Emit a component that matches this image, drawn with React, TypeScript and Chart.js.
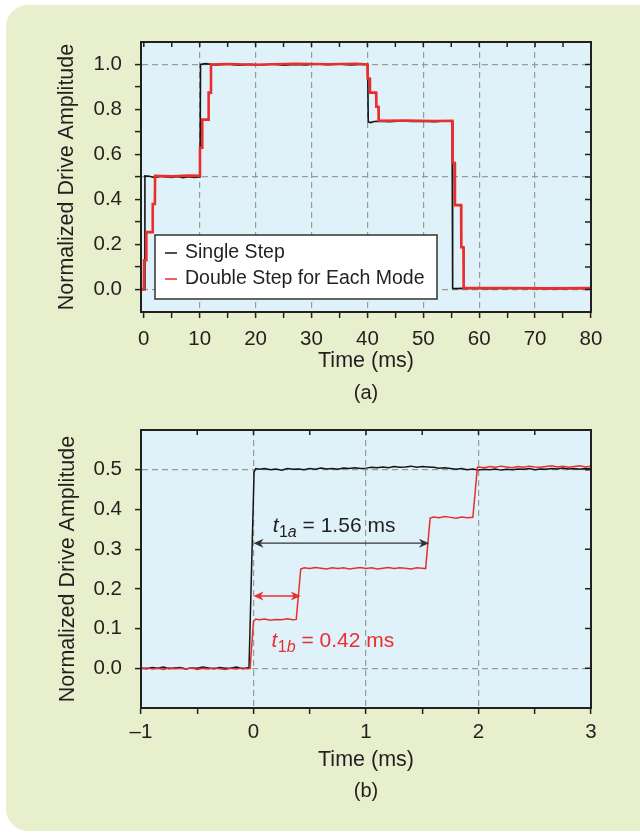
import React, { useEffect, useRef } from "react";
import { Chart, registerables } from "chart.js";

Chart.register(...registerables);

const FONT = '"Liberation Sans", Arial, Helvetica, sans-serif';
const INK = "#231f20";
const ARROW_INK = "#333333";
const RED = "#ec2d2d";
const BLACK = "#151515";
const GRID = "#9a9a9a";
const PLOT_BG = "#dff2fa";
const PANEL_BG = "#e8efcc";

// ---------- (a) whole drive sequence, time in ms ----------
const A_SINGLE_T = [-0.5, 0.1, 0.2, 1, 2, 3, 4, 5, 6, 7, 8, 9, 10.05,
  10.15, 11, 13, 15, 17, 19, 21, 23, 25, 27, 29, 31, 33, 35, 37, 39, 40.05,
  40.15, 40.6, 41.2, 42, 44, 46, 48, 50, 52, 54, 55.15,
  55.25, 56, 58, 62, 66, 70, 74, 78, 80];
const A_SINGLE_V = [0.0, 0.0, 0.505, 0.503, 0.497, 0.503, 0.5, 0.498, 0.502, 0.497, 0.501, 0.498, 0.5,
  1.0, 1.004, 0.998, 1.002, 0.997, 1.001, 0.998, 1.002, 0.997, 1.0, 0.998, 1.003, 0.999, 1.002, 0.998, 1.001, 1.0,
  0.745, 0.742, 0.747, 0.748, 0.746, 0.749, 0.747, 0.748, 0.746, 0.749, 0.748,
  0.005, 0.004, 0.006, 0.004, 0.006, 0.005, 0.004, 0.006, 0.005];

const A_DOUBLE_T = [-0.5, 0.0, 0.05, 0.42, 0.46, 1.56, 1.6, 1.98, 2.02, 5, 8, 10.0,
  10.05, 10.42, 10.46, 11.56, 11.6, 11.98, 12.02, 15, 20, 27, 33, 38, 40.0,
  40.05, 40.42, 40.46, 41.56, 41.6, 41.98, 42.02, 47, 52, 55.2,
  55.25, 55.62, 55.66, 56.76, 56.8, 57.18, 57.22, 65, 72, 80];
const A_DOUBLE_V = [0.0, 0.0, 0.13, 0.13, 0.255, 0.255, 0.38, 0.38, 0.505, 0.503, 0.506, 0.505,
  0.63, 0.63, 0.755, 0.755, 0.875, 0.875, 1.0, 1.002, 0.999, 1.003, 1.001, 1.003, 1.0,
  0.9375, 0.9375, 0.875, 0.875, 0.8125, 0.8125, 0.75, 0.751, 0.749, 0.75,
  0.5625, 0.5625, 0.375, 0.375, 0.1875, 0.1875, 0.006, 0.007, 0.005, 0.006];

const A_X_TICKS = [0, 5, 10, 15, 20, 25, 30, 35, 40, 45, 50, 55, 60, 65, 70, 75, 80];
const A_X_LABELED = [0, 10, 20, 30, 40, 50, 60, 70, 80];
const A_X_GRID = [10, 20, 30, 40, 50, 60, 70];
const A_Y_TICKS = [0, 0.1, 0.2, 0.3, 0.4, 0.5, 0.6, 0.7, 0.8, 0.9, 1.0];
const A_Y_LABELED = [0, 0.2, 0.4, 0.6, 0.8, 1.0];
const A_Y_GRID = [0, 0.5, 1.0];

// ---------- (b) close-up of the first step, time in ms ----------
const B_SINGLE_T = [-1.0, -0.95, -0.9, -0.85, -0.8, -0.75, -0.7, -0.65, -0.6, -0.55, -0.5, -0.45, -0.4,
  -0.35, -0.3, -0.25, -0.2, -0.15, -0.1, -0.05, -0.04, 0.005, 0.02,
  0.05, 0.1, 0.15, 0.2, 0.25, 0.3, 0.35, 0.4, 0.45, 0.5, 0.55, 0.6, 0.65, 0.7, 0.75, 0.8, 0.85, 0.9, 0.95,
  1.0, 1.05, 1.1, 1.15, 1.2, 1.25, 1.3, 1.35, 1.4, 1.45, 1.5, 1.55, 1.6, 1.65, 1.7, 1.75, 1.8, 1.85, 1.9, 1.95,
  2.0, 2.05, 2.1, 2.15, 2.2, 2.25, 2.3, 2.35, 2.4, 2.45, 2.5, 2.55, 2.6, 2.65, 2.7, 2.75, 2.8, 2.85, 2.9, 2.95, 3.0];
const B_SINGLE_V = [0.001, -0.001, 0.002, 0.0, 0.003, -0.001, 0.001, 0.002, -0.002, 0.001, 0.0, 0.003, 0.001,
  -0.001, 0.002, 0.0, 0.001, 0.003, -0.001, 0.001, 0.0, 0.494, 0.503,
  0.501, 0.503, 0.5, 0.502, 0.499, 0.503, 0.501, 0.502, 0.5, 0.503, 0.501, 0.504, 0.502, 0.503, 0.501, 0.504, 0.503, 0.505, 0.503,
  0.504, 0.506, 0.505, 0.507, 0.505, 0.508, 0.506, 0.507, 0.509, 0.506, 0.508, 0.507, 0.506, 0.504, 0.505, 0.503, 0.501, 0.503, 0.5, 0.502,
  0.499, 0.501, 0.5, 0.502, 0.499, 0.501, 0.5, 0.502, 0.501, 0.503, 0.5, 0.502, 0.501, 0.503, 0.502, 0.504, 0.502, 0.503, 0.501, 0.503, 0.502];

const B_DOUBLE_T = [-1.0, -0.95, -0.9, -0.85, -0.8, -0.75, -0.7, -0.65, -0.6, -0.55, -0.5, -0.45, -0.4,
  -0.35, -0.3, -0.25, -0.2, -0.15, -0.1, -0.05, -0.03, 0.0, 0.02,
  0.05, 0.1, 0.15, 0.2, 0.25, 0.3, 0.35, 0.38, 0.42,
  0.45, 0.5, 0.55, 0.6, 0.65, 0.7, 0.75, 0.8, 0.85, 0.9, 0.95, 1.0, 1.05, 1.1, 1.15, 1.2, 1.25, 1.3, 1.35, 1.4, 1.45, 1.5, 1.53, 1.57,
  1.6, 1.65, 1.7, 1.75, 1.8, 1.85, 1.9, 1.95, 1.99,
  2.0, 2.05, 2.1, 2.15, 2.2, 2.25, 2.3, 2.35, 2.4, 2.45, 2.5, 2.55, 2.6, 2.65, 2.7, 2.75, 2.8, 2.85, 2.9, 2.95, 3.0];
const B_DOUBLE_V = [-0.001, 0.001, -0.002, 0.0, -0.003, 0.001, -0.001, 0.0, -0.002, 0.001, -0.003, 0.0, -0.002,
  0.001, -0.001, -0.003, 0.0, -0.002, 0.001, -0.001, 0.0, 0.118, 0.124,
  0.122, 0.124, 0.121, 0.123, 0.122, 0.125, 0.122, 0.123, 0.25,
  0.253, 0.251, 0.254, 0.252, 0.25, 0.253, 0.251, 0.253, 0.25, 0.252, 0.254, 0.251, 0.253, 0.25, 0.252, 0.254, 0.251, 0.253, 0.252, 0.25, 0.253, 0.252, 0.251, 0.378,
  0.381, 0.379, 0.382, 0.38, 0.378, 0.381, 0.379, 0.38, 0.506,
  0.507, 0.505, 0.508, 0.506, 0.509, 0.507, 0.505, 0.508, 0.506, 0.509, 0.507, 0.506, 0.508, 0.51, 0.507, 0.509, 0.506, 0.508, 0.51, 0.507, 0.509];

const B_X_TICKS = [-1, -0.5, 0, 0.5, 1, 1.5, 2, 2.5, 3];
const B_X_LABELED = [-1, 0, 1, 2, 3];
const B_X_GRID = [0, 1, 2];
const B_Y_TICKS = [0, 0.1, 0.2, 0.3, 0.4, 0.5];
const B_Y_LABELED = [0, 0.1, 0.2, 0.3, 0.4, 0.5];
const B_Y_GRID = [0, 0.5];

// step delays marked in (b)
const T1A = 1.56;
const T1B = 0.42;
const SPAN_A_LEVEL = 0.315;
const SPAN_B_LEVEL = 0.182;
const LABEL_A_AT = [0.17, 0.344];
const LABEL_B_AT = [0.16, 0.054];

const pts = (t: number[], v: number[]) => t.map((x, i) => ({ x, y: v[i] }));
const fmtTime = (v: number) => (v < 0 ? "\u2013" + Math.abs(v) : String(v));
const fmtAmp = (v: number) => v.toFixed(1);

const plotBackground = {
  id: "plotBackground",
  beforeDraw(chart: any) {
    const { ctx, chartArea: a } = chart;
    ctx.save();
    ctx.fillStyle = PLOT_BG;
    ctx.fillRect(a.left, a.top, a.right - a.left, a.bottom - a.top);
    ctx.restore();
  },
};

function frameTicks(xTicks: number[], yTicks: number[]) {
  return {
    id: "frameTicks",
    afterDraw(chart: any) {
      const { ctx, chartArea: a, scales } = chart;
      ctx.save();
      ctx.strokeStyle = INK;
      ctx.lineWidth = 1.5;
      ctx.beginPath();
      xTicks.forEach((v) => {
        const px = scales.x.getPixelForValue(v);
        ctx.moveTo(px, a.top);
        ctx.lineTo(px, a.top + 5);
      });
      yTicks.forEach((v) => {
        const py = scales.y.getPixelForValue(v);
        ctx.moveTo(a.right, py);
        ctx.lineTo(a.right - 6, py);
      });
      ctx.stroke();
      ctx.lineWidth = 2;
      ctx.strokeRect(a.left, a.top, a.right - a.left, a.bottom - a.top);
      ctx.restore();
    },
  };
}

const insetLegend = {
  id: "insetLegend",
  afterDatasetsDraw(chart: any) {
    const { ctx, chartArea: a } = chart;
    const x = a.left + 14;
    const y = a.top + 193;
    const w = 282;
    const h = 64;
    ctx.save();
    ctx.fillStyle = "#ffffff";
    ctx.fillRect(x, y, w, h);
    ctx.strokeStyle = ARROW_INK;
    ctx.lineWidth = 1.5;
    ctx.strokeRect(x, y, w, h);
    ctx.font = `19.5px ${FONT}`;
    ctx.textBaseline = "middle";
    ctx.textAlign = "left";
    chart.data.datasets.forEach((ds: any, i: number) => {
      const cy = y + 18 + i * 26;
      ctx.strokeStyle = ds.borderColor;
      ctx.lineWidth = 1.5;
      ctx.beginPath();
      ctx.moveTo(x + 10, cy);
      ctx.lineTo(x + 22, cy);
      ctx.stroke();
      ctx.fillStyle = INK;
      ctx.fillText(ds.label, x + 30, cy);
    });
    ctx.restore();
  },
};

function drawSpan(ctx: CanvasRenderingContext2D, x0: number, x1: number, y: number, color: string) {
  ctx.save();
  ctx.strokeStyle = color;
  ctx.fillStyle = color;
  ctx.lineWidth = 1.3;
  ctx.beginPath();
  ctx.moveTo(x0 + 4, y);
  ctx.lineTo(x1 - 4, y);
  ctx.stroke();
  const head = (tip: number, dir: number) => {
    ctx.beginPath();
    ctx.moveTo(tip, y);
    ctx.lineTo(tip - dir * 10, y - 4.5);
    ctx.lineTo(tip - dir * 7, y);
    ctx.lineTo(tip - dir * 10, y + 4.5);
    ctx.closePath();
    ctx.fill();
  };
  head(x0, -1);
  head(x1, 1);
  ctx.restore();
}

function drawDelayLabel(ctx: CanvasRenderingContext2D, x: number, y: number, sub: string, value: number, color: string) {
  ctx.save();
  ctx.fillStyle = color;
  ctx.textBaseline = "alphabetic";
  ctx.textAlign = "left";
  ctx.font = `italic 21px ${FONT}`;
  ctx.fillText("t", x, y);
  x += ctx.measureText("t").width + 0.5;
  ctx.font = `16px ${FONT}`;
  ctx.fillText("1", x, y + 5);
  x += ctx.measureText("1").width;
  ctx.font = `italic 16px ${FONT}`;
  ctx.fillText(sub, x, y + 5);
  x += ctx.measureText(sub).width;
  ctx.font = `21px ${FONT}`;
  ctx.fillText(` = ${value.toFixed(2)} ms`, x, y);
  ctx.restore();
}

const delayMarks = {
  id: "delayMarks",
  afterDatasetsDraw(chart: any) {
    const { ctx, scales } = chart;
    const X = scales.x;
    const Y = scales.y;
    drawSpan(ctx, X.getPixelForValue(0), X.getPixelForValue(T1A), Y.getPixelForValue(SPAN_A_LEVEL), ARROW_INK);
    drawSpan(ctx, X.getPixelForValue(0), X.getPixelForValue(T1B), Y.getPixelForValue(SPAN_B_LEVEL), RED);
    drawDelayLabel(ctx, X.getPixelForValue(LABEL_A_AT[0]), Y.getPixelForValue(LABEL_A_AT[1]), "a", T1A, INK);
    drawDelayLabel(ctx, X.getPixelForValue(LABEL_B_AT[0]), Y.getPixelForValue(LABEL_B_AT[1]), "b", T1B, RED);
  },
};

type AxisSpec = {
  min: number;
  max: number;
  ticks: number[];
  labeled: number[];
  grid: number[];
  fmt: (v: number) => string;
  size: number;
  labelPad: number;
  title: string;
  titlePad: { top: number; bottom: number };
};

function axis(s: AxisSpec, horizontal: boolean) {
  return {
    type: "linear",
    position: horizontal ? "bottom" : "left",
    min: s.min,
    max: s.max,
    afterBuildTicks: (scale: any) => {
      scale.ticks = s.ticks.map((value) => ({ value }));
    },
    afterFit: (scale: any) => {
      if (horizontal) scale.height = s.size;
      else scale.width = s.size;
      // labels never sit at the plot edges, so no overflow room is needed
      scale.paddingTop = 0;
      scale.paddingBottom = 0;
      scale.paddingLeft = 0;
      scale.paddingRight = 0;
    },
    ticks: {
      autoSkip: false,
      maxRotation: 0,
      minRotation: 0,
      padding: s.labelPad,
      color: INK,
      font: { family: FONT, size: 20.5 },
      callback: (v: number) => (s.labeled.includes(v) ? s.fmt(v) : ""),
    },
    grid: {
      color: (c: any) => (c.tick && s.grid.includes(c.tick.value) ? GRID : "transparent"),
      lineWidth: 1.2,
      drawTicks: true,
      tickLength: 6,
      tickWidth: 1.5,
      tickColor: INK,
    },
    border: { display: true, color: INK, width: 2, dash: [6, 4] },
    title: {
      display: true,
      text: s.title,
      color: INK,
      font: { family: FONT, size: 21.5 },
      padding: s.titlePad,
    },
  };
}

function buildChart(
  canvas: HTMLCanvasElement,
  datasets: any[],
  x: AxisSpec,
  y: AxisSpec,
  padTop: number,
  extra: any[],
) {
  return new Chart(canvas, {
    type: "line",
    data: { datasets },
    options: {
      responsive: false,
      animation: false,
      devicePixelRatio: 1,
      events: [],
      layout: { padding: { left: 0, right: 49, top: padTop, bottom: 0 } },
      elements: { point: { radius: 0 }, line: { tension: 0, borderCapStyle: "butt" } },
      scales: { x: axis(x, true), y: axis(y, false) } as any,
      plugins: { legend: { display: false }, tooltip: { enabled: false } },
    },
    plugins: [plotBackground, ...extra],
  } as any);
}

export default function App() {
  const refA = useRef<HTMLCanvasElement>(null);
  const refB = useRef<HTMLCanvasElement>(null);

  useEffect(() => {
    const chartA = buildChart(
      refA.current!,
      [
        { label: "Single Step", data: pts(A_SINGLE_T, A_SINGLE_V), borderColor: BLACK, borderWidth: 1.6, order: 2 },
        { label: "Double Step for Each Mode", data: pts(A_DOUBLE_T, A_DOUBLE_V), borderColor: RED, borderWidth: 2.6, order: 1 },
      ],
      {
        min: -0.5, max: 80, ticks: A_X_TICKS, labeled: A_X_LABELED, grid: A_X_GRID, fmt: fmtTime,
        size: 108, labelPad: 9, title: "Time (ms)", titlePad: { top: 0, bottom: 46 },
      },
      {
        min: -0.1, max: 1.1, ticks: A_Y_TICKS, labeled: A_Y_LABELED, grid: A_Y_GRID, fmt: fmtAmp,
        size: 141, labelPad: 13, title: "Normalized Drive Amplitude", titlePad: { top: 54, bottom: 0 },
      },
      42,
      [insetLegend, frameTicks(A_X_TICKS, A_Y_TICKS)],
    );
    const chartB = buildChart(
      refB.current!,
      [
        { label: "Single Step", data: pts(B_SINGLE_T, B_SINGLE_V), borderColor: BLACK, borderWidth: 1.5, order: 2 },
        { label: "Double Step for Each Mode", data: pts(B_DOUBLE_T, B_DOUBLE_V), borderColor: RED, borderWidth: 1.5, order: 1 },
      ],
      {
        min: -1, max: 3, ticks: B_X_TICKS, labeled: B_X_LABELED, grid: B_X_GRID, fmt: fmtTime,
        size: 125, labelPad: 6, title: "Time (ms)", titlePad: { top: 0, bottom: 60 },
      },
      {
        min: -0.1, max: 0.6, ticks: B_Y_TICKS, labeled: B_Y_LABELED, grid: B_Y_GRID, fmt: fmtAmp,
        size: 141, labelPad: 13, title: "Normalized Drive Amplitude", titlePad: { top: 55, bottom: 0 },
      },
      10,
      [delayMarks, frameTicks(B_X_TICKS, B_Y_TICKS)],
    );
    return () => {
      chartA.destroy();
      chartB.destroy();
    };
  }, []);

  const caption: React.CSSProperties = {
    position: "absolute",
    left: 141,
    width: 450,
    textAlign: "center",
    fontFamily: FONT,
    fontSize: 20,
    lineHeight: "24px",
    color: INK,
  };

  return (
    <div style={{ position: "absolute", left: 0, top: 0, width: 640, height: 833, overflow: "hidden" }}>
      <div
        style={{
          position: "absolute",
          left: 6,
          top: 5,
          width: 634,
          height: 826,
          background: PANEL_BG,
          borderRadius: "22px 0 0 22px",
        }}
      />
      <canvas ref={refA} width={640} height={420} style={{ position: "absolute", left: 0, top: 0 }} />
      <div style={{ ...caption, top: 380 }}>(a)</div>
      <canvas ref={refB} width={640} height={413} style={{ position: "absolute", left: 0, top: 420 }} />
      <div style={{ ...caption, top: 778 }}>(b)</div>
    </div>
  );
}
